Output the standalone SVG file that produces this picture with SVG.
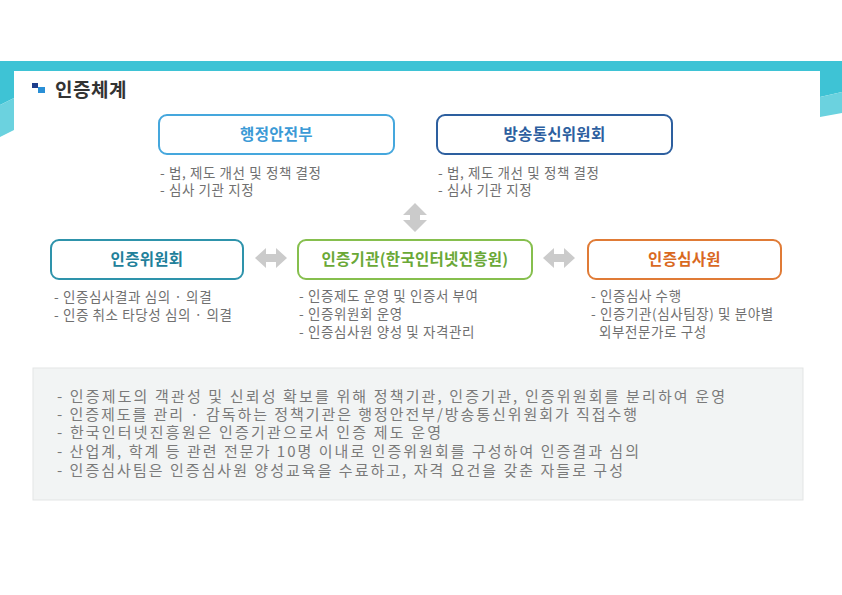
<svg xmlns="http://www.w3.org/2000/svg" width="842" height="595" viewBox="0 0 842 595">
<style>
text{font-family:"Noto Sans CJK KR","Noto Sans",sans-serif}
.lbl{font-size:15.5px;font-weight:700;text-anchor:middle;letter-spacing:0.3px}
.box{fill:#fff;stroke-width:2}
.bul{font-size:13.5px;fill:#707070;letter-spacing:0.6px}
.note{font-size:15px;fill:#7a7a7a}
.arr{fill:#cbcbcb}
</style>
<rect width="842" height="595" fill="#fff"/>
<g id="frame">
<rect x="0" y="61" width="842" height="10" fill="#3ec3d5"/>
<polygon points="0,61 14,61 14,98 0,105" fill="#3ec3d5"/>
<polygon points="0,105 14,98 14,130 0,137" fill="#6bd2df"/>
<polygon points="820,61 842,61 842,92 820,97" fill="#3ec3d5"/>
<polygon points="820,97 842,92 842,113 820,117" fill="#6bd2df"/>
</g>
<g id="title">
<rect x="32" y="83" width="6" height="5" fill="#1e3e8c"/>
<rect x="38" y="87" width="7" height="6" fill="#2a8fd6"/>
<text x="55" y="97" font-size="19" font-weight="700" fill="#333" letter-spacing="0.5">인증체계</text>
</g>
<g id="connectors">
<polygon class="arr" points="415,203 427,215 420,215 420,220 427,220 415,232 403,220 410,220 410,215 403,215"/>
<polygon class="arr" points="255,258 266,248 266,254 276,254 276,248 287,258 276,268 276,262 266,262 266,268"/>
<polygon class="arr" points="543,258 554,248 554,254 564,254 564,248 575,258 564,268 564,262 554,262 554,268"/>
</g>
<g id="mois">
<rect class="box" x="159" y="115" width="235" height="39" rx="8" stroke="#45a7dd"/>
<text class="lbl" x="276.5" y="140" fill="#3b9ad6">행정안전부</text>
<text class="bul" x="160" y="178">- 법, 제도 개선 및 정책 결정</text>
<text class="bul" x="160" y="195">- 심사 기관 지정</text>
</g>
<g id="kcc">
<rect class="box" x="437" y="115" width="235" height="39" rx="8" stroke="#2d5f9f"/>
<text class="lbl" x="554.5" y="140" fill="#2d5f9f">방송통신위원회</text>
<text class="bul" x="438" y="178">- 법, 제도 개선 및 정책 결정</text>
<text class="bul" x="438" y="195">- 심사 기관 지정</text>
</g>
<g id="committee">
<rect class="box" x="51" y="240" width="192" height="39" rx="8" stroke="#2e93ab"/>
<text class="lbl" x="147" y="265" fill="#21809a">인증위원회</text>
<text class="bul" x="54" y="302">- 인증심사결과 심의 · 의결</text>
<text class="bul" x="54" y="320">- 인증 취소 타당성 심의 · 의결</text>
</g>
<g id="agency">
<rect class="box" x="298" y="240" width="234" height="39" rx="8" stroke="#86bf4e"/>
<text class="lbl" x="415" y="265" fill="#6aa836" letter-spacing="0">인증기관(한국인터넷진흥원)</text>
<text class="bul" x="299" y="301">- 인증제도 운영 및 인증서 부여</text>
<text class="bul" x="299" y="319">- 인증위원회 운영</text>
<text class="bul" x="299" y="337">- 인증심사원 양성 및 자격관리</text>
</g>
<g id="auditor">
<rect class="box" x="588" y="240" width="193" height="39" rx="8" stroke="#e07b36"/>
<text class="lbl" x="684.5" y="265" fill="#d9691f">인증심사원</text>
<text class="bul" x="591" y="301">- 인증심사 수행</text>
<text class="bul" x="591" y="319">- 인증기관(심사팀장) 및 분야별</text>
<text class="bul" x="599" y="337">외부전문가로 구성</text>
</g>
<g id="notes">
<rect x="33" y="368" width="770" height="132" fill="#f2f4f4" stroke="#e3e5e5"/>
<text class="note" x="57" y="402" textLength="668" lengthAdjust="spacing">- 인증제도의 객관성 및 신뢰성 확보를 위해 정책기관, 인증기관, 인증위원회를 분리하여 운영</text>
<text class="note" x="57" y="420" textLength="580" lengthAdjust="spacing">- 인증제도를 관리 · 감독하는 정책기관은 행정안전부/방송통신위원회가 직접수행</text>
<text class="note" x="57" y="438" textLength="384" lengthAdjust="spacing">- 한국인터넷진흥원은 인증기관으로서 인증 제도 운영</text>
<text class="note" x="57" y="457" textLength="582" lengthAdjust="spacing">- 산업계, 학계 등 관련 전문가 10명 이내로 인증위원회를 구성하여 인증결과 심의</text>
<text class="note" x="57" y="476" textLength="566" lengthAdjust="spacing">- 인증심사팀은 인증심사원 양성교육을 수료하고, 자격 요건을 갖춘 자들로 구성</text>
</g>
</svg>
